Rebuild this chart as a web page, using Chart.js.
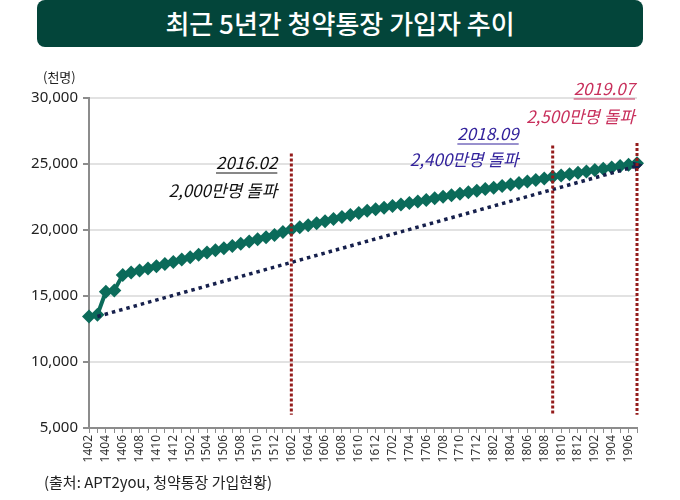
<!DOCTYPE html>
<html>
<head>
<meta charset="utf-8">
<script src="https://cdn.jsdelivr.net/npm/chart.js"></script>
<style>
  body { margin: 0; background: #fff; font-family: "Noto Sans CJK KR", "Noto Sans", sans-serif; }
  #wrap { position: relative; width: 680px; height: 500px; overflow: hidden; }
  #title {
    position: absolute; left: 37px; top: 0; width: 606px; height: 47px;
    background: #03453a; border-radius: 8px; color: #fff;
    font-size: 26px; font-weight: 500; text-align: center; line-height: 46px;
  }
  #unit { position: absolute; left: 43px; top: 67px; font-size: 13px; color: #222; }
  #source { position: absolute; left: 44px; top: 471px; font-size: 15px; color: #222; }
  canvas { position: absolute; left: 0; top: 0; }
</style>
</head>
<body>
<div id="wrap">
  <canvas id="myChart" width="680" height="500"></canvas>
  <div id="title">최근 5년간 청약통장 가입자 추이</div>
  <div id="unit">(천명)</div>
  <div id="source">(출처: APT2you, 청약통장 가입현황)</div>
</div>
<script>
// 월별 (YYMM)
var months = [
  '1402','1403','1404','1405','1406','1407','1408','1409','1410','1411','1412',
  '1501','1502','1503','1504','1505','1506','1507','1508','1509','1510','1511','1512',
  '1601','1602','1603','1604','1605','1606','1607','1608','1609','1610','1611','1612',
  '1701','1702','1703','1704','1705','1706','1707','1708','1709','1710','1711','1712',
  '1801','1802','1803','1804','1805','1806','1807','1808','1809','1810','1811','1812',
  '1901','1902','1903','1904','1905','1906','1907'
];

// 청약통장 가입자 (천명)
var subscribers = [
  13450, 13580, 15330, 15420, 16600, 16780, 16930, 17090, 17260, 17420, 17580,
  17760, 17940, 18130, 18300, 18460, 18620, 18790, 18960, 19130, 19290, 19460, 19630,
  19850, 20040, 20200, 20360, 20510, 20670, 20830, 20990, 21140, 21290, 21450, 21570,
  21690, 21810, 21930, 22050, 22160, 22280, 22400, 22510, 22630, 22750, 22860, 22980,
  23100, 23210, 23330, 23450, 23560, 23680, 23790, 23910, 24030, 24130, 24230, 24340,
  24440, 24540, 24640, 24740, 24840, 24940, 25050
];

// 추세선 (시작, 끝)
var trendStart = 1, trendEnd = 65;
var trendValues = [13450, 24850];

// 돌파 시점 표시
var markIdx = [24, 55, 65];
var markDates = ['2016.02', '2018.09', '2019.07'];
var markTexts = ['2,000만명 돌파', '2,400만명 돌파', '2,500만명 돌파'];
var markTop = [25800, 26400, 26600];
var markBottom = 6000;

var yTicks = [5000, 10000, 15000, 20000, 25000, 30000];

var trend = months.map(function (m, i) {
  if (i == trendStart) return trendValues[0];
  if (i == trendEnd) return trendValues[1];
  return null;
});

var markColors = ['#111111', '#33239c', '#c8305c'];
var textPos = [ // [right offset from line, date y, text y]
  [-14, 163, 191],
  [-34, 134, 160],
  [-2, 89, 117]
];

var marksPlugin = {
  id: 'marks',
  afterDatasetsDraw: function (chart) {
    var ctx = chart.ctx, xs = chart.scales.x, ys = chart.scales.y;
    ctx.save();
    for (var i = 0; i < markIdx.length; i++) {
      var x = xs.getPixelForValue(markIdx[i]);
      ctx.beginPath();
      ctx.strokeStyle = '#941b1b';
      ctx.lineWidth = 3;
      ctx.setLineDash([3, 2]);
      ctx.moveTo(x, ys.getPixelForValue(markTop[i]));
      ctx.lineTo(x, ys.getPixelForValue(markBottom));
      ctx.stroke();
    }
    ctx.setLineDash([]);
    ctx.textAlign = 'right';
    ctx.textBaseline = 'middle';
    ctx.font = 'italic 17px "Noto Sans CJK KR"';
    for (var i = 0; i < markIdx.length; i++) {
      var x = xs.getPixelForValue(markIdx[i]) + textPos[i][0];
      ctx.fillStyle = markColors[i];
      ctx.strokeStyle = markColors[i];
      ctx.fillText(markDates[i], x, textPos[i][1]);
      var w = ctx.measureText(markDates[i]).width;
      ctx.lineWidth = 1;
      ctx.beginPath();
      ctx.moveTo(x - w, textPos[i][1] + 10);
      ctx.lineTo(x, textPos[i][1] + 10);
      ctx.stroke();
      ctx.fillText(markTexts[i], x, textPos[i][2]);
    }
    ctx.restore();
  }
};

var ctx = document.getElementById('myChart').getContext('2d');
var myChart = new Chart(ctx, {
  type: 'line',
  data: {
    labels: months,
    datasets: [{
      label: '추세',
      data: trend,
      spanGaps: true,
      borderColor: '#16204c',
      backgroundColor: '#16204c',
      borderWidth: 3.5,
      borderDash: [3.5, 4],
      pointStyle: 'triangle',
      pointRotation: 75,
      pointRadius: function (c) { return c.dataIndex == trendEnd ? 6 : 0; },
      pointBorderWidth: 0,
      order: 0
    }, {
      label: '청약통장 가입자',
      data: subscribers,
      borderColor: '#0b6b5a',
      backgroundColor: '#0b6b5a',
      borderWidth: 4,
      pointStyle: 'rectRot',
      pointRadius: 7,
      pointBorderWidth: 0,
      order: 1
    }]
  },
  options: {
    responsive: false,
    animation: false,
    devicePixelRatio: 1,
    layout: { padding: { top: 98, right: 43, left: 0, bottom: 0 } },
    plugins: { legend: { display: false }, tooltip: { enabled: false } },
    scales: {
      x: {
        offset: false,
        grid: { drawOnChartArea: false, tickLength: 5, color: '#8c8c8c', lineWidth: 1 },
        border: { color: '#8c8c8c', width: 2 },
        ticks: {
          autoSkip: false, maxRotation: 90, minRotation: 90, padding: 2,
          color: '#333', font: { family: 'Noto Sans', size: 12 },
          callback: function (v, i) { return i % 2 == 0 ? months[i] : ''; }
        },
        afterFit: function (s) { s.height = 72; }
      },
      y: {
        min: 5000, max: 30000,
        afterBuildTicks: function (s) { s.ticks = yTicks.map(function (v) { return { value: v }; }); },
        grid: { color: '#e2e2e2', lineWidth: 2, tickLength: 6, tickColor: '#8c8c8c' },
        border: { color: '#8c8c8c', width: 2 },
        ticks: {
          color: '#222', padding: 5, font: { family: 'Noto Sans', size: 15 },
          callback: function (v) { return v.toLocaleString('en-US'); }
        },
        afterFit: function (s) { s.width = 89; }
      }
    }
  },
  plugins: [marksPlugin]
});
</script>
</body>
</html>
